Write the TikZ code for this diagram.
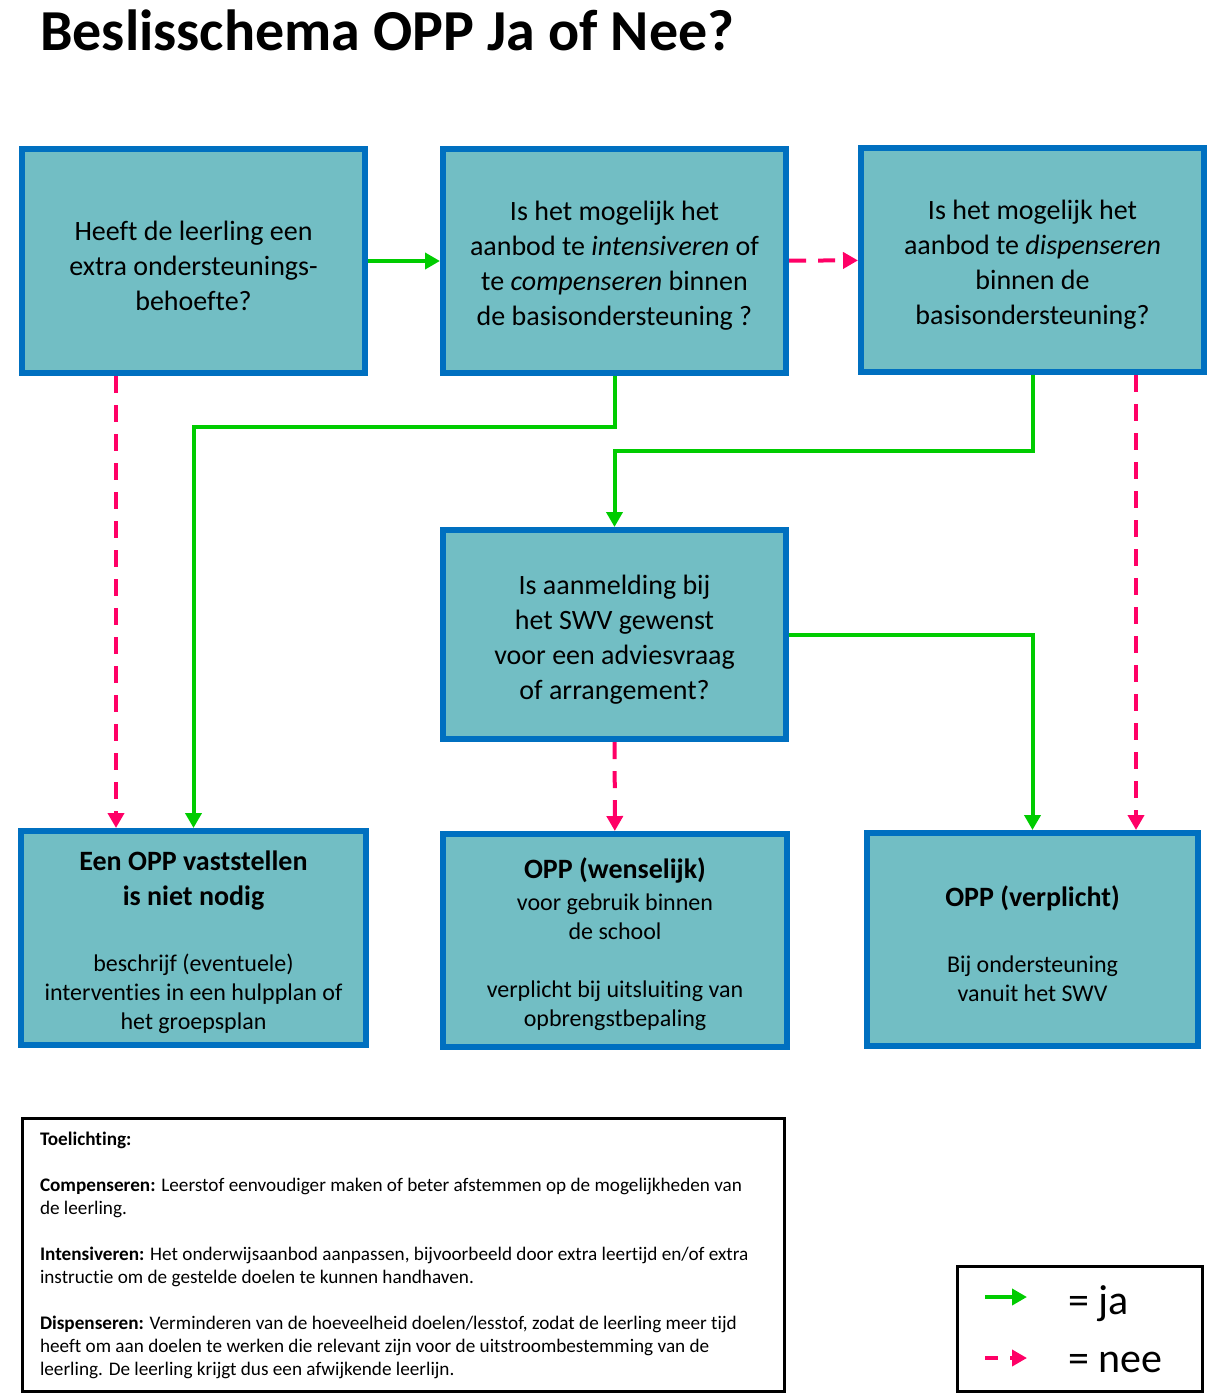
\documentclass[tikz,border=0pt]{standalone}
\usepackage{fontspec}
\setmainfont{Carlito}[Ligatures={NoCommon},RawFeature={-liga;-clig;-dlig}]
\usepackage{tikz}
\usetikzlibrary{positioning}
\usetikzlibrary{arrows.meta}

\definecolor{oppfill}{RGB}{114,190,196}
\definecolor{oppblue}{RGB}{0,112,192}
\definecolor{jagreen}{RGB}{0,204,0}
\definecolor{neepink}{RGB}{255,0,102}

\newcommand{\klein}{\fontsize{24}{29}\selectfont}
\newcommand{\hoog}{\rule{0pt}{29pt}}

\tikzset{
  vraag/.style={draw=oppblue,line width=6pt,fill=oppfill,align=center,
    minimum width=343pt,minimum height=224pt,inner sep=4pt,
    font=\fontsize{28}{35}\selectfont},
  ja/.style={draw=jagreen,line width=4pt,-{Triangle[length=15pt,width=16pt]}},
  nee/.style={draw=neepink,line width=4pt,dash pattern=on 17pt off 12pt,
    -{Triangle[length=15pt,width=16pt]}}
}

\begin{document}
\begin{tikzpicture}[x=1pt,y=-1pt]
          \useasboundingbox (0,0) rectangle (1218,1399);

          \node[anchor=base west,inner sep=0,font=\fontsize{58}{70}\selectfont\bfseries] (titel) at (40,51) {Beslisschema OPP Ja of Nee?};

          % vragen
          \node[vraag] (Q1) at (193.5,261) {\hoog Heeft de leerling een\\ extra ondersteunings-\\ behoefte?};
          \node[vraag] (Q2) at (614.5,261) {\hoog Is het mogelijk het\\ aanbod te \textit{intensiveren} of\\ te \textit{compenseren} binnen\\ de basisondersteuning ?};
          \node[vraag] (Q3) at (1032.5,260) {\hoog Is het mogelijk het\\ aanbod te \textit{dispenseren}\\ binnen de\\ basisondersteuning?};
          \node[vraag,minimum height=209pt] (Q4) at (614.5,634.5) {\hoog Is aanmelding bij\\ het SWV gewenst\\ voor een adviesvraag\\ of arrangement?};

          % uitkomsten
          \node[vraag,minimum width=345pt,minimum height=214pt] (R1) at (193.5,938) {\hoog\textbf{Een OPP vaststellen}\\ \textbf{is niet nodig}\\[31pt] \klein beschrijf (eventuele)\\[-6pt] \klein interventies in een hulpplan of\\[-6pt] \klein het groepsplan};
          \node[vraag,minimum width=344pt,minimum height=213pt] (R2) at (615,940.5) {\hoog\textbf{OPP (wenselijk)}\\[-3pt] \klein voor gebruik binnen\\[-6pt] \klein de school\\[23pt] \klein verplicht bij uitsluiting van\\[-6pt] \klein opbrengstbepaling};
          \node[vraag,minimum width=331pt,minimum height=213pt] (R3) at (1032.5,939.5) {\hoog\textbf{OPP (verplicht)}\\[31pt] \klein Bij ondersteuning\\[-6pt] \klein vanuit het SWV};

          \coordinate (K1) at (193.5,427);
          \coordinate (K2) at (614.5,451);

          \draw[ja] (Q1) -- (Q2);
          \draw[nee] (Q2) -- (Q3);
          \draw[nee] ([xshift=-77.5pt]Q1.south) -- ([xshift=-77.5pt]R1.north);
          \draw[ja] (Q2.south) |- (K1) -- (R1.north);
          \draw[ja] (Q3.south) |- (K2) -- (Q4.north);
          \draw[ja] (Q4.east) -| (R3.north);
          \draw[nee] ([xshift=103.5pt]Q3.south) -- ([xshift=103.5pt]R3.north);
          \draw[nee] (Q4) -- (R2);

          % toelichting
          \node[draw,line width=3pt,outer sep=0pt,anchor=north west,align=flush left,inner xsep=17.5pt,inner ysep=0pt,
            text width=727pt,minimum height=273pt,font=\fontsize{19.2}{23}\selectfont] (uitleg) at (22.5,1118.5)
            {\textbf{Toelichting:}\\[23pt]
             \textbf{Compenseren:} Leerstof eenvoudiger maken of beter afstemmen op de mogelijkheden van\\
             de leerling.\\[23pt]
             \textbf{Intensiveren:} Het onderwijsaanbod aanpassen, bijvoorbeeld door extra leertijd en/of extra\\
             instructie om de gestelde doelen te kunnen handhaven.\\[23pt]
             \textbf{Dispenseren:} Verminderen van de hoeveelheid doelen/lesstof, zodat de leerling meer tijd\\
             heeft om aan doelen te werken die relevant zijn voor de uitstroombestemming van de\\
             leerling. De leerling krijgt dus een afwijkende leerlijn.};

          % legenda
          \node[draw,line width=3pt,outer sep=0pt,anchor=north west,minimum width=245pt,minimum height=125pt] (legenda) at (957.5,1266.5) {};
          \coordinate (LJa1) at (985,1297);
          \coordinate (LJa2) at (1027,1297);
          \coordinate (LNee1) at (985,1358);
          \coordinate (LNee2) at (1027,1358);
          \draw[ja] (LJa1) -- (LJa2);
          \draw[nee,dash pattern=on 13pt off 12pt] (LNee1) -- (LNee2);
          \node[anchor=base west,inner sep=0,font=\fontsize{42}{50}\selectfont] (ja) at (1068,1314) {= ja};
          \node[anchor=base west,inner sep=0,font=\fontsize{42}{50}\selectfont] (nee) at (1068,1372) {= nee};
        \end{tikzpicture}
\end{document}
